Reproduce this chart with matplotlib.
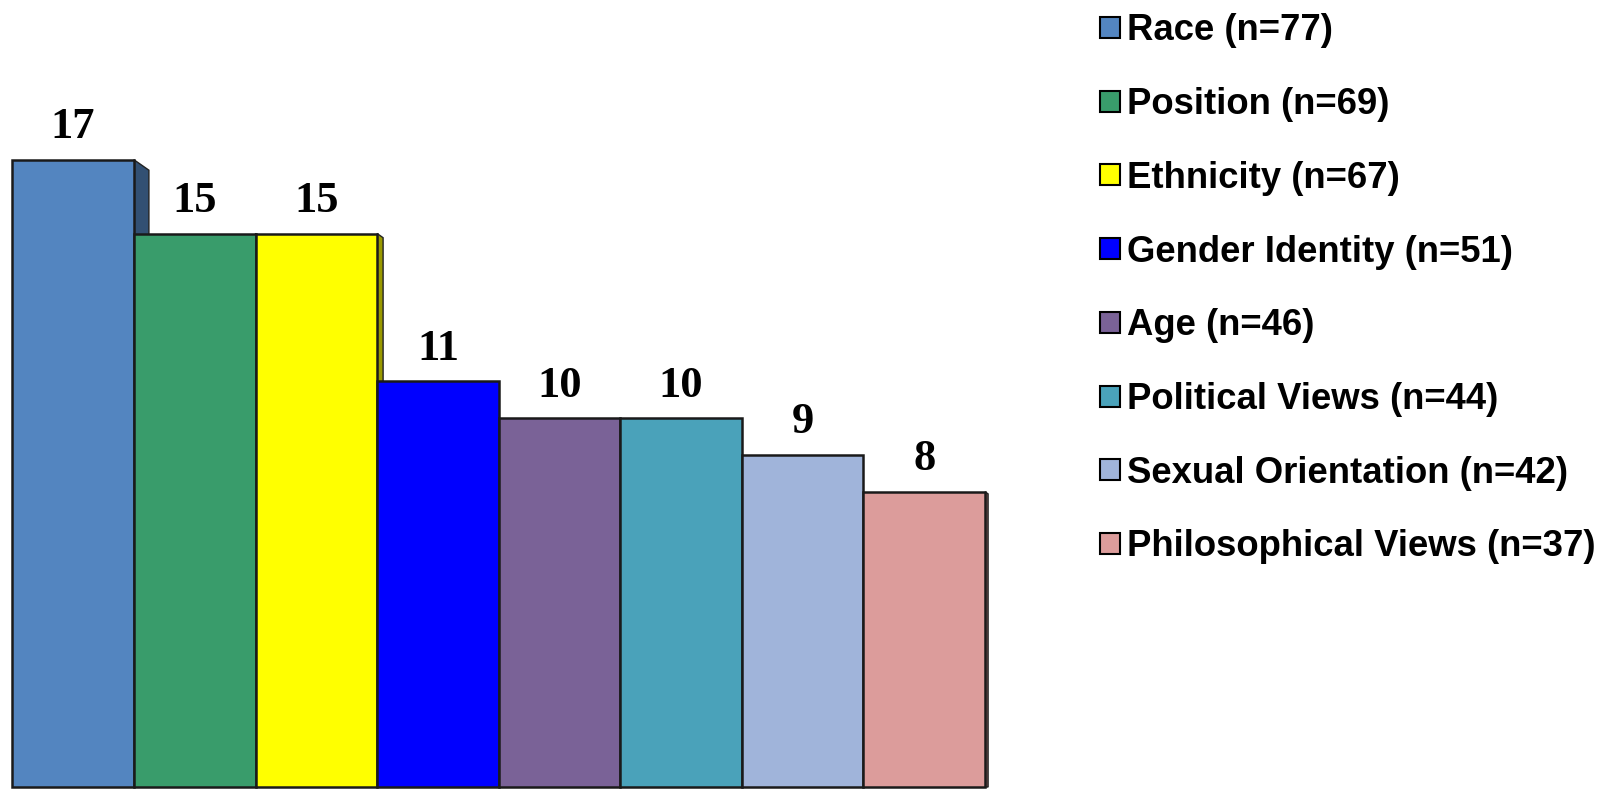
import matplotlib
matplotlib.use("Agg")
import matplotlib.pyplot as plt
from matplotlib.patches import Polygon, Rectangle
from matplotlib.colors import to_rgb

# Data
categories = ["Race", "Position", "Ethnicity", "Gender Identity", "Age",
              "Political Views", "Sexual Orientation", "Philosophical Views"]
counts_n = [77, 69, 67, 51, 46, 44, 42, 37]
values = [17, 15, 15, 11, 10, 10, 9, 8]
colors = ["#5385C0", "#399C6B", "#FFFF00", "#0000FF", "#7A6297",
          "#4AA2BA", "#A0B4DA", "#DC9C9B"]

W, H = 1612, 789
fig = plt.figure(figsize=(W / 100, H / 100), dpi=100)
ax = fig.add_axes([0, 0, 1, 1])
ax.set_axis_off()

# pixel geometry of the plotting area
x0_px, bar_px = 12.3, 121.6       # left edge of first bar, bar width
base_px, unit_px = 787.0, 36.9    # baseline (from top), pixels per unit
ax.set_xlim(-x0_px / bar_px, (W - x0_px) / bar_px)
ax.set_ylim((base_px - H) / unit_px, base_px / unit_px)

# right-hand side faces giving the bars a little depth
depth_px = [15, 10, 6, 0, 0, 0, 0, 3]
for i, (v, c) in enumerate(zip(values, colors)):
    if depth_px[i] == 0:
        continue
    dx = depth_px[i] / bar_px
    dy = depth_px[i] * 0.7 / unit_px
    dark = tuple(ch * 0.6 for ch in to_rgb(c))
    poly = Polygon([(i + 1, v), (i + 1 + dx, v - dy), (i + 1 + dx, 0), (i + 1, 0)],
                   closed=True, facecolor=dark, edgecolor="#222222",
                   linewidth=1.0, zorder=1)
    ax.add_patch(poly)

# front faces
xs = list(range(len(values)))
ax.bar(xs, values, width=1.0, align="edge", color=colors,
       edgecolor="#1a1a1a", linewidth=1.8, zorder=2)

# value labels
for i, v in enumerate(values):
    ax.text(i + 0.5, v + 0.58, str(v), ha="center", va="baseline",
            fontsize=32, fontweight="bold", family="Liberation Serif",
            color="black", zorder=3)

# legend drawn at fixed figure positions
row0_base, row_step = 40.5, 73.7
for k, (name, n, c) in enumerate(zip(categories, counts_n, colors)):
    base = row0_base + row_step * k
    cy = base - 13.0
    fig.add_artist(Rectangle((1100 / W, 1 - (cy + 10.5) / H), 20 / W, 21 / H,
                             transform=fig.transFigure, facecolor=c,
                             edgecolor="black", linewidth=1.5))
    fig.text(1127 / W, 1 - base / H, f"{name} (n={n})", ha="left",
             va="baseline", fontsize=26.3, fontweight="bold",
             family="Liberation Sans", color="black")

fig.savefig("out.png", dpi=100)
